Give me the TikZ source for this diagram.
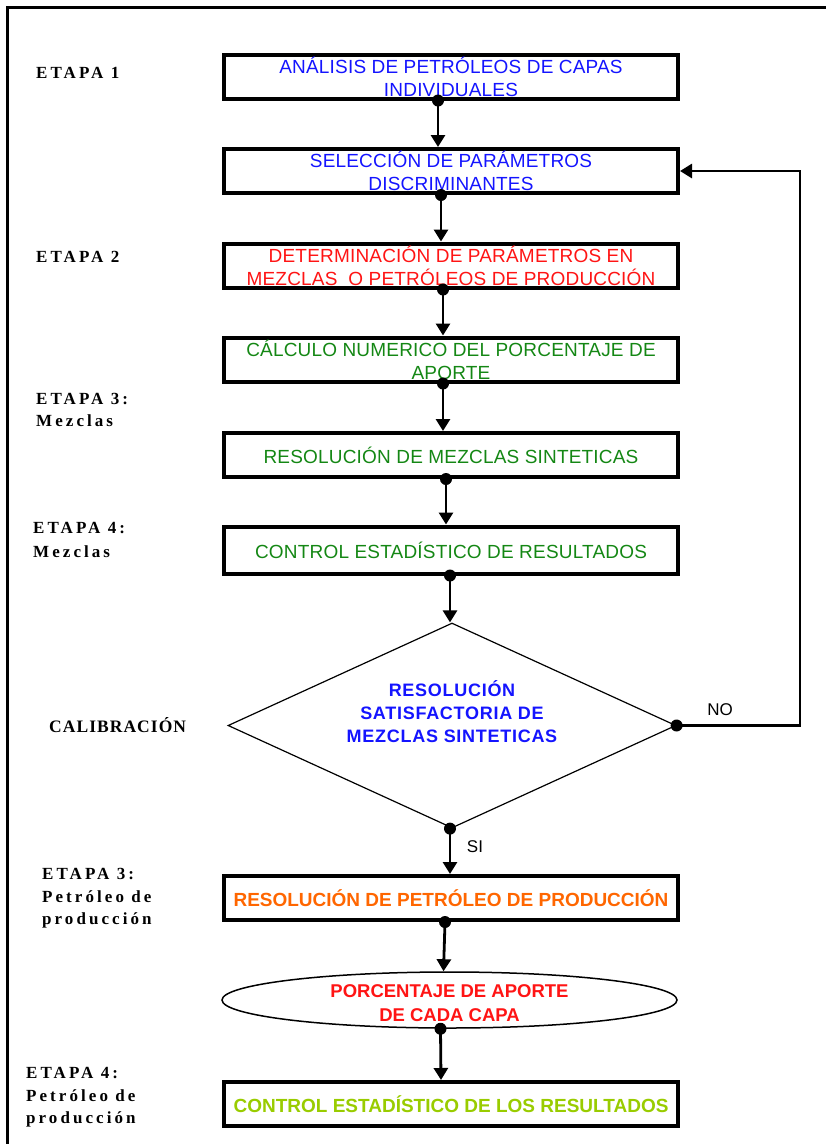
\documentclass[tikz,border=0pt]{standalone}
\usepackage{fontspec}
\setmainfont{Liberation Sans}
\newfontfamily\boxfont{Liberation Sans}[LetterSpace=1]
\newfontfamily\diafont{Liberation Sans}[LetterSpace=4]
\newfontfamily\lblfont{Liberation Serif}[LetterSpace=18]
\newfontfamily\calfont{Liberation Serif}[LetterSpace=6]
\usetikzlibrary{arrows.meta,shapes.geometric}
\definecolor{tblue}{RGB}{20,20,255}
\definecolor{tred}{RGB}{255,20,20}
\definecolor{tgreen}{RGB}{20,135,20}
\definecolor{torange}{RGB}{255,102,0}
\definecolor{tlime}{RGB}{153,204,0}
\tikzset{
  procbox/.style={draw, line width=4pt, minimum width=454pt, minimum height=44pt,
    inner sep=0pt, align=center, font=\boxfont\fontsize{19}{23}\selectfont},
  boldtext/.style={font=\fontsize{19}{23}\selectfont\bfseries},
  conn/.style={line width=2.8pt, -{Triangle[width=14pt,length=12pt]}},
  stage/.style={anchor=base west, inner sep=0pt, font=\lblfont\bfseries\fontsize{17}{20}\selectfont},
  plain/.style={inner sep=0pt, font=\fontsize{17}{20}\selectfont}
}
\newcommand{\startdot}[1]{\fill #1 circle (6pt);}
\begin{document}
\begin{tikzpicture}[x=1pt,y=-1pt]
\useasboundingbox (0,0) rectangle (826,1144);
\draw[line width=3pt] (826,7) -- (7,7) -- (7,1144);

% boxes
\node[procbox, text=tblue] (b1) at (451,76.5) {ANÁLISIS DE PETRÓLEOS DE CAPAS\\INDIVIDUALES};
\node[procbox, text=tblue] (b2) at (451,171) {SELECCIÓN DE PARÁMETROS\\DISCRIMINANTES};
\node[procbox, text=tred] (b3) at (451,265.5) {DETERMINACIÓN DE PARÁMETROS EN\\MEZCLAS\ \ O PETRÓLEOS DE PRODUCCIÓN};
\node[procbox, text=tgreen] (b4) at (451,359.5) {CÁLCULO NUMERICO DEL PORCENTAJE DE\\APORTE};
\node[procbox, text=tgreen] (b5) at (451,455) {RESOLUCIÓN DE MEZCLAS SINTETICAS};
\node[procbox, text=tgreen, minimum height=47pt] (b6) at (451,550) {CONTROL ESTADÍSTICO DE RESULTADOS};

\node[diamond, draw, line width=1.2pt, minimum width=448pt, minimum height=205pt,
  aspect=2.2, inner sep=0pt] (dia) at (452,725.5) {};
\node[inner sep=0pt, align=center, text=tblue, font=\diafont\bfseries\fontsize{18}{23}\selectfont]
  (diat) at ([yshift=14pt]dia.center) {RESOLUCIÓN\\SATISFACTORIA DE\\MEZCLAS SINTETICAS};

\node[procbox, text=torange, boldtext] (b7) at (451,898) {RESOLUCIÓN DE PETRÓLEO DE PRODUCCIÓN};
\node[ellipse, draw, line width=1.5pt, minimum width=455pt, minimum height=56pt, inner sep=0pt] (ell) at (449.5,1000) {};
\node[inner sep=0pt, align=center, text=tred, font=\fontsize{18.5}{24}\selectfont\bfseries]
  (ellt) at ([yshift=-3pt]ell.center) {PORCENTAJE DE APORTE\\DE CADA CAPA};
\node[procbox, text=tlime, boldtext] (b8) at (451,1104) {CONTROL ESTADÍSTICO DE LOS RESULTADOS};

% connectors
\draw[conn] ([xshift=-13pt]b1.south) -- ([xshift=-13pt]b2.north);
\startdot{([xshift=-13pt]b1.south)}
\draw[conn] ([xshift=-10pt]b2.south) -- ([xshift=-10pt]b3.north);
\startdot{([xshift=-10pt]b2.south)}
\draw[conn] ([xshift=-8pt]b3.south) -- ([xshift=-8pt]b4.north);
\startdot{([xshift=-8pt]b3.south)}
\draw[conn] ([xshift=-8pt]b4.south) -- ([xshift=-8pt]b5.north);
\startdot{([xshift=-8pt]b4.south)}
\draw[conn] ([xshift=-5pt]b5.south) -- ([xshift=-5pt]b6.north);
\startdot{([xshift=-5pt]b5.south)}
\draw[conn] ([xshift=-1pt]b6.south) -- ([xshift=-2pt]dia.north);
\startdot{([xshift=-1pt]b6.south)}
\draw[conn] ([xshift=-2pt]dia.south) -- ([xshift=-1pt]b7.north);
\startdot{([xshift=-2pt]dia.south)}
\draw[conn] ([xshift=-6pt]b7.south) -- ([xshift=-6pt]ell.north);
\startdot{([xshift=-6pt]b7.south)}
\draw[conn] ([xshift=-9pt]ell.south) -- ([xshift=-10pt]b8.north);
\startdot{([xshift=-9pt]ell.south)}

\coordinate (loopc) at (800,725.5);
\draw[conn] (dia.east) -- (loopc) |- (b2.east);
\startdot{(dia.east)}

\node[plain] (no) at (720,710) {NO};
\node[plain] (si) at (475,847) {SI};

% stage labels
\node[stage] (e1) at (36,78) {ETAPA 1};
\node[stage] (e2) at (36,262) {ETAPA 2};
\node[stage] (e3a) at (36,404) {ETAPA 3:};
\node[stage] (e3b) at (36,426) {Mezclas};
\node[stage] (e4a) at (33,533) {ETAPA 4:};
\node[stage] (e4b) at (33,557) {Mezclas};
\node[anchor=base west, inner sep=0pt, font=\calfont\bfseries\fontsize{17.5}{20}\selectfont] (cal) at (49,732) {CALIBRACIÓN};
\node[stage] (p3a) at (42,879) {ETAPA 3:};
\node[stage] (p3b) at (42,902) {Petróleo de};
\node[stage] (p3c) at (42,924) {producción};
\node[stage] (p4a) at (26,1078) {ETAPA 4:};
\node[stage] (p4b) at (26,1101) {Petróleo de};
\node[stage] (p4c) at (26,1123) {producción};
\end{tikzpicture}
\end{document}
